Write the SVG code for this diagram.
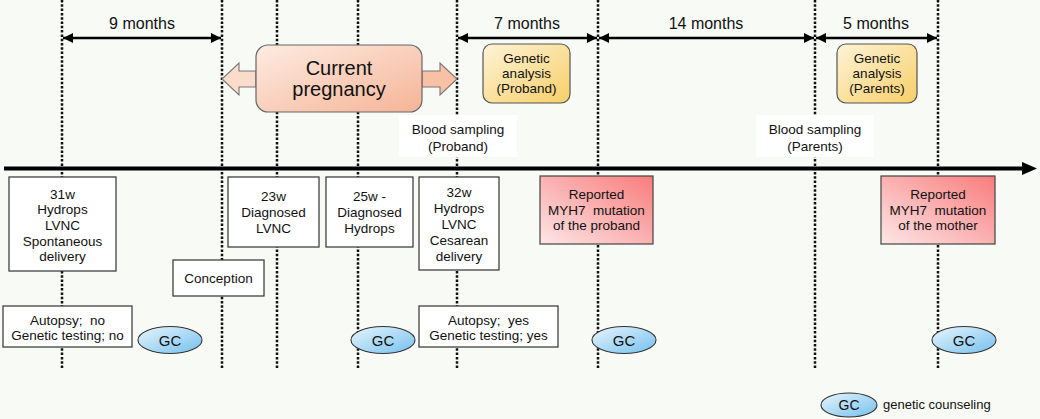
<svg xmlns="http://www.w3.org/2000/svg" width="1040" height="419" viewBox="0 0 1040 419">
<defs>
<linearGradient id="gPreg" x1="0" y1="0" x2="1" y2="1">
<stop offset="0" stop-color="#fdece2"/><stop offset="1" stop-color="#f5b496"/>
</linearGradient>
<linearGradient id="gGen" x1="0" y1="0" x2="1" y2="1">
<stop offset="0" stop-color="#fdf3d6"/><stop offset="1" stop-color="#f8cf68"/>
</linearGradient>
<linearGradient id="gRep" x1="0" y1="1" x2="1" y2="0">
<stop offset="0" stop-color="#fde6e6"/><stop offset="1" stop-color="#f97c7c"/>
</linearGradient>
<linearGradient id="gGC" x1="0" y1="0" x2="1" y2="1">
<stop offset="0" stop-color="#e8f5fd"/><stop offset="1" stop-color="#74c0ee"/>
</linearGradient>
<marker id="ah" viewBox="0 0 10 10" refX="10" refY="5" markerWidth="4" markerHeight="4" orient="auto-start-reverse" markerUnits="strokeWidth">
<path d="M0,0 L10,5 L0,10 z" fill="#000"/>
</marker>
<style>
text{font-family:"Liberation Sans",Arial,sans-serif;fill:#111;text-anchor:middle}
.t{font-size:13.5px}
.m{font-size:16px}
.dot{stroke:#111;stroke-width:2.5;stroke-dasharray:2.5 1.8;fill:none}
.box{fill:#fff;stroke:#333;stroke-width:1.2}
.rep{fill:url(#gRep);stroke:#444;stroke-width:1.2}
.gen{fill:url(#gGen);stroke:#555;stroke-width:1.2}
.gc{fill:url(#gGC);stroke:#333;stroke-width:1.1}
.span{stroke:#000;stroke-width:2.5;marker-start:url(#ah);marker-end:url(#ah)}
</style>
</defs>
<rect width="1040" height="419" fill="#f8faf5"/>
<g id="connectors">
<line class="dot" x1="62" y1="0" x2="62" y2="369"/>
<line class="dot" x1="222" y1="0" x2="222" y2="369"/>
<line class="dot" x1="277" y1="0" x2="277" y2="369"/>
<line class="dot" x1="358" y1="0" x2="358" y2="369"/>
<line class="dot" x1="457" y1="0" x2="457" y2="369"/>
<line class="dot" x1="598" y1="0" x2="598" y2="369"/>
<line class="dot" x1="815" y1="0" x2="815" y2="369"/>
<line class="dot" x1="938" y1="0" x2="938" y2="369"/>
<line x1="4" y1="168.5" x2="1024" y2="168.5" stroke="#000" stroke-width="4"/>
<polygon points="1022,162 1037,168.5 1022,175" fill="#000"/>
<line class="span" x1="63" y1="38" x2="221" y2="38"/>
<line class="span" x1="458" y1="38" x2="597" y2="38"/>
<line class="span" x1="599" y1="38" x2="814" y2="38"/>
<line class="span" x1="816" y1="38" x2="937" y2="38"/>
<text class="m" x="142" y="29">9 months</text>
<text class="m" x="527" y="29">7 months</text>
<text class="m" x="706" y="29">14 months</text>
<text class="m" x="876" y="29">5 months</text>
</g>
<g id="pregnancy">
<polygon points="256,71 239,71 239,63 222,79 239,95 239,87 256,87" fill="#fbdccb" stroke="#777" stroke-width="1.1"/>
<polygon points="422,71 440,71 440,63 457,79 440,95 440,87 422,87" fill="#f8c0a4" stroke="#777" stroke-width="1.1"/>
<rect x="256" y="45" width="166" height="67" rx="12" fill="url(#gPreg)" stroke="#666" stroke-width="1.2"/>
<text x="339" y="75" style="font-size:20px">Current</text>
<text x="339" y="96" style="font-size:20px">pregnancy</text>
</g>
<g id="genetic-proband">
<rect class="gen" x="483" y="44" width="87" height="59" rx="9"/>
<text class="t" x="526.5" y="63">Genetic</text>
<text class="t" x="526.5" y="78">analysis</text>
<text class="t" x="526.5" y="93">(Proband)</text>
</g>
<g id="genetic-parents">
<rect class="gen" x="837" y="44" width="80" height="59" rx="9"/>
<text class="t" x="877" y="63">Genetic</text>
<text class="t" x="877" y="78">analysis</text>
<text class="t" x="877" y="93">(Parents)</text>
</g>
<g id="blood-proband">
<rect x="399" y="115" width="118" height="42" fill="#fff"/>
<text class="t" x="458" y="134">Blood sampling</text>
<text class="t" x="458" y="151">(Proband)</text>
</g>
<g id="blood-parents">
<rect x="756" y="115" width="118" height="42" fill="#fff"/>
<text class="t" x="815" y="134">Blood sampling</text>
<text class="t" x="815" y="151">(Parents)</text>
</g>
<g id="event-31w">
<rect class="box" x="9" y="177" width="107" height="94"/>
<text class="t" x="62.5" y="198.5">31w</text>
<text class="t" x="62.5" y="214">Hydrops</text>
<text class="t" x="62.5" y="230">LVNC</text>
<text class="t" x="62.5" y="245.5">Spontaneous</text>
<text class="t" x="62.5" y="261">delivery</text>
</g>
<g id="autopsy-no">
<rect class="box" x="3" y="306" width="129" height="41"/>
<text class="t" x="67.5" y="324.5" style="white-space:pre">Autopsy;  no</text>
<text class="t" x="67.5" y="339.5">Genetic testing; no</text>
</g>
<g id="conception">
<rect class="box" x="173" y="260" width="91" height="36"/>
<text class="t" x="218.5" y="283">Conception</text>
</g>
<g id="event-23w">
<rect class="box" x="228" y="177" width="91" height="70"/>
<text class="t" x="273.5" y="200.5">23w</text>
<text class="t" x="273.5" y="216.5">Diagnosed</text>
<text class="t" x="273.5" y="232.5">LVNC</text>
</g>
<g id="event-25w">
<rect class="box" x="326" y="177" width="87" height="70"/>
<text class="t" x="369.5" y="200.5">25w -</text>
<text class="t" x="369.5" y="216.5">Diagnosed</text>
<text class="t" x="369.5" y="232.5">Hydrops</text>
</g>
<g id="event-32w">
<rect class="box" x="419" y="177" width="80" height="93"/>
<text class="t" x="459" y="196.5">32w</text>
<text class="t" x="459" y="212.5">Hydrops</text>
<text class="t" x="459" y="228.5">LVNC</text>
<text class="t" x="459" y="244.5">Cesarean</text>
<text class="t" x="459" y="260.5">delivery</text>
</g>
<g id="autopsy-yes">
<rect class="box" x="419" y="306" width="139" height="41"/>
<text class="t" x="488.5" y="324.5" style="white-space:pre">Autopsy;  yes</text>
<text class="t" x="488.5" y="339.5">Genetic testing; yes</text>
</g>
<g id="reported-proband">
<rect class="rep" x="540" y="176" width="113" height="68"/>
<text class="t" x="596.5" y="199">Reported</text>
<text class="t" x="596.5" y="214.5" style="white-space:pre">MYH7  mutation</text>
<text class="t" x="596.5" y="230">of the proband</text>
</g>
<g id="reported-mother">
<rect class="rep" x="881" y="176" width="114" height="68"/>
<text class="t" x="938" y="199">Reported</text>
<text class="t" x="938" y="214.5" style="white-space:pre">MYH7  mutation</text>
<text class="t" x="938" y="230">of the mother</text>
</g>
<g id="gc1"><ellipse class="gc" cx="170" cy="340" rx="32" ry="13.5"/><text x="170" y="345.5" style="font-size:15px">GC</text></g>
<g id="gc2"><ellipse class="gc" cx="383" cy="340" rx="32" ry="13.5"/><text x="383" y="345.5" style="font-size:15px">GC</text></g>
<g id="gc3"><ellipse class="gc" cx="624" cy="340" rx="32" ry="13.5"/><text x="624" y="345.5" style="font-size:15px">GC</text></g>
<g id="gc4"><ellipse class="gc" cx="964" cy="340" rx="32" ry="13.5"/><text x="964" y="345.5" style="font-size:15px">GC</text></g>
<g id="legend">
<ellipse class="gc" cx="849" cy="405" rx="28" ry="12"/>
<text x="849" y="410" style="font-size:14px">GC</text>
<text x="883" y="409" style="font-size:13px;text-anchor:start">genetic counseling</text>
</g>
</svg>
